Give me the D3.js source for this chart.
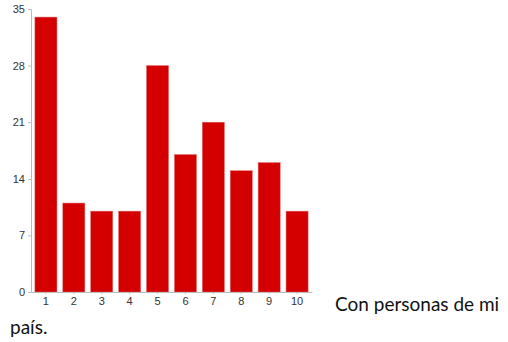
<!DOCTYPE html>
<html><head><meta charset="utf-8">
<script src="https://cdn.jsdelivr.net/npm/d3@7"></script>
<style>body{margin:0;background:#fff}svg{display:block}</style>
</head><body>
<svg id="c" width="508" height="342"></svg>
<script>
const categories = ["1","2","3","4","5","6","7","8","9","10"];
const values = [34, 11, 10, 10, 28, 17, 21, 15, 16, 10];
const yTicks = [0, 7, 14, 21, 28, 35];

const svg = d3.select("#c");
const x = d3.scaleBand().domain(categories).range([31, 312]).paddingInner(0.21).paddingOuter(0.14);
const y = d3.scaleLinear().domain([0, 35]).range([292, 9]);

svg.selectAll("rect.bar").data(values).join("rect")
  .attr("class","bar")
  .attr("x",(d,i)=>x(categories[i]))
  .attr("y",d=>y(d))
  .attr("width",x.bandwidth())
  .attr("height",d=>y(0)-y(d))
  .attr("fill","#d40000")
  .attr("stroke","#e06666").attr("stroke-width",0.5);

const yAxis = svg.append("g").attr("transform","translate(31,0)")
  .call(d3.axisLeft(y).tickValues(yTicks).tickSize(3).tickPadding(3));
yAxis.select(".domain").attr("stroke","#bbb");
yAxis.selectAll(".tick line").attr("stroke","#bbb");
yAxis.selectAll("text").attr("fill","#333").style("font-family","Liberation Sans, Arial, sans-serif").style("font-size","11px");

const xAxis = svg.append("g").attr("transform","translate(0,292)")
  .call(d3.axisBottom(x).tickSize(2).tickPadding(3).tickSizeOuter(0));
xAxis.select(".domain").attr("stroke","#bbb");
xAxis.selectAll(".tick line").attr("stroke","#bbb");
xAxis.selectAll("text").attr("fill","#333").style("font-family","Liberation Sans, Arial, sans-serif").style("font-size","11px");

svg.append("text").attr("x",335).attr("y",311)
  .style("font-family","Lato, 'Open Sans', sans-serif").style("font-size","19px").attr("fill","#111")
  .text("Con personas de mi");
svg.append("text").attr("x",10).attr("y",334)
  .style("font-family","Lato, 'Open Sans', sans-serif").style("font-size","19px").attr("fill","#111")
  .text("país.");
</script>
</body></html>
